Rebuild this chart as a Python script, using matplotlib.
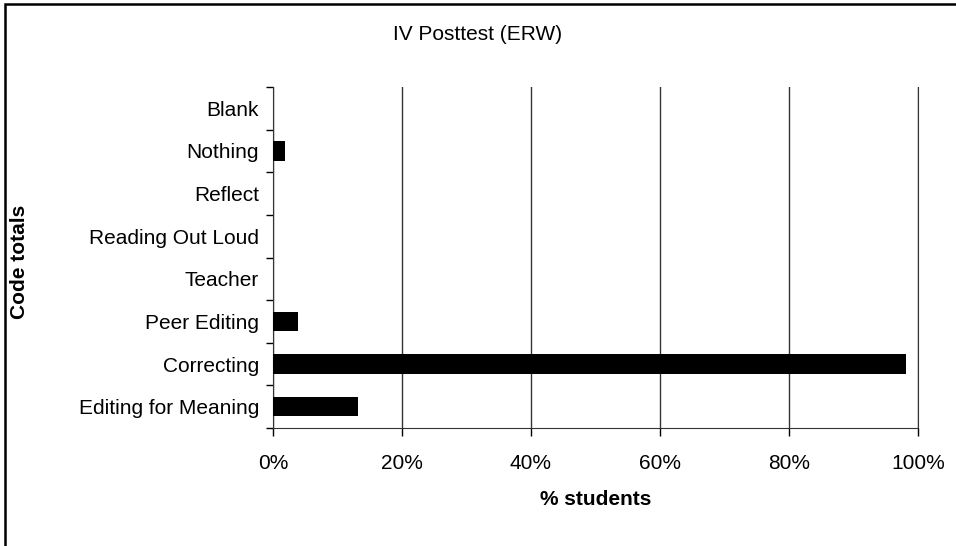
import matplotlib
matplotlib.use("Agg")
import matplotlib.pyplot as plt
from matplotlib.patches import Rectangle
from matplotlib.ticker import FixedLocator, PercentFormatter

# Data (fraction of students per code)
CATEGORIES = [
    "Editing for Meaning", "Correcting", "Peer Editing", "Teacher",
    "Reading Out Loud", "Reflect", "Nothing", "Blank",
]
VALUES = [13.2, 98.1, 3.8, 0, 0, 0, 1.9, 0]
X_TICKS = [0, 20, 40, 60, 80, 100]

plt.rcParams["font.family"] = ["Liberation Sans", "DejaVu Sans"]

fig = plt.figure(figsize=(9.56, 5.46), dpi=100)
ax = fig.add_axes([273 / 956, 1 - 428 / 546, 645 / 956, 341 / 546])

pos = list(range(len(CATEGORIES)))
ax.barh(pos, VALUES, height=0.45, color="black", zorder=3)

ax.set_xlim(0, 100)
ax.set_ylim(-0.5, len(CATEGORIES) - 0.5)
ax.set_xticks(X_TICKS)
ax.xaxis.set_major_formatter(PercentFormatter(decimals=0))
ax.set_yticks(pos)
ax.set_yticklabels(CATEGORIES)
ax.yaxis.set_minor_locator(FixedLocator([p - 0.5 for p in pos] + [len(pos) - 0.5]))
ax.tick_params(axis="y", which="major", length=0, pad=10, labelsize=15)
ax.tick_params(axis="y", which="minor", length=5, width=1, direction="out")
ax.tick_params(axis="x", length=6, width=1, direction="out", pad=13, labelsize=15)

ax.grid(axis="x", color="#333333", linewidth=1, zorder=1)
ax.spines["top"].set_visible(False)
for side in ["left", "bottom", "right"]:
    ax.spines[side].set_color("#333333")

ax.set_xlabel("% students", fontsize=15, fontweight="bold", labelpad=12)
fig.text(20 / 956, 1 - 262 / 546, "Code totals", rotation=90, fontsize=15,
         fontweight="bold", ha="center", va="center")
fig.text(478 / 956, 1 - 35 / 546, "IV Posttest (ERW)", fontsize=15,
         ha="center", va="center")

# outer frame like the spreadsheet chart area
fig.patches.append(Rectangle((5 / 956, -0.05), 1.1, 1 - 4 / 546 + 0.05,
                             transform=fig.transFigure, fill=False,
                             edgecolor="black", linewidth=1.8))

fig.savefig("out.png", dpi=100)
